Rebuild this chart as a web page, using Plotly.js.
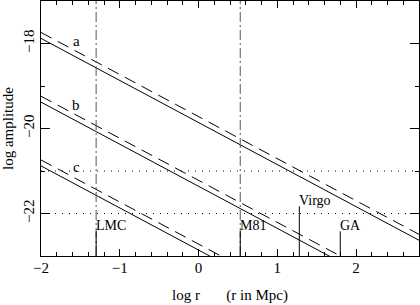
<!DOCTYPE html>
<html><head><meta charset="utf-8">
<script src="https://cdn.plot.ly/plotly-3.0.1.min.js"></script>
<style>body{margin:0;background:#fff}#c{width:420px;height:305px}</style>
</head><body><div id="c"></div>
<script>
// line endpoints (log r at both ends, log amplitude at both ends)
const xEnds = [-2, 2.8];
const aSolid = [-17.88, -22.63];
const aDashed = [-17.74, -22.49];
const bSolid = [-19.38, -24.13];
const bDashed = [-19.24, -23.99];
const cSolid = [-20.88, -25.63];
const cDashed = [-20.74, -25.49];
const curveLabels = ['a', 'b', 'c'];
const curveLabelX = [-1.55, -1.55, -1.55];
const curveLabelY = [-17.94, -19.44, -20.91];
// objects
const objNames = ['LMC', 'M81', 'Virgo', 'GA'];
const objLogR = [-1.30, 0.53, 1.28, 1.80];
const objTop = [-22.42, -22.42, -21.83, -22.42];
const dashDotObjects = [-1.30, 0.53];
const dottedLevels = [-21, -22];
const yRange = [-23, -17];
const xRange = [-2, 2.8];

const serif = 'Liberation Serif, Times New Roman, serif';
const traces = [];
const solid = {color: '#000', width: 1};
const dashed = {color: '#000', width: 1, dash: '12px,7px'};
[[aSolid, aDashed], [bSolid, bDashed], [cSolid, cDashed]].forEach(p => {
  traces.push({x: xEnds, y: p[0], mode: 'lines', line: solid, hoverinfo: 'skip'});
  traces.push({x: xEnds, y: p[1], mode: 'lines', line: dashed, hoverinfo: 'skip'});
});
dottedLevels.forEach(v => traces.push({x: xRange, y: [v, v], mode: 'lines', line: {color: '#000', width: 1, dash: '1px,6px'}, hoverinfo: 'skip'}));
dashDotObjects.forEach(v => traces.push({x: [v, v], y: yRange, mode: 'lines', line: {color: '#555', width: 1, dash: '10px,3px,2px,3px'}, hoverinfo: 'skip'}));
objLogR.forEach((v, i) => traces.push({x: [v, v], y: [yRange[0], objTop[i]], mode: 'lines', line: solid, hoverinfo: 'skip'}));

const annotations = [];
curveLabels.forEach((t, i) => annotations.push({x: curveLabelX[i], y: curveLabelY[i], text: t, showarrow: false, xanchor: 'center', yanchor: 'middle', font: {family: serif, size: 15, color: '#000'}}));
objNames.forEach((t, i) => annotations.push({x: objLogR[i], y: objTop[i], text: t, showarrow: false, xanchor: 'left', yanchor: 'bottom', xshift: -2, yshift: -4, font: {family: serif, size: 14, color: '#000'}}));

const layout = {
  width: 420, height: 305,
  margin: {l: 41, r: 1, t: 1, b: 49},
  showlegend: false,
  paper_bgcolor: '#fff', plot_bgcolor: '#fff',
  font: {family: serif, size: 15, color: '#000'},
  xaxis: {
    range: xRange, dtick: 1, tick0: 0, ticks: 'inside', ticklen: 7, tickcolor: '#000', tickwidth: 1,
    minor: {dtick: 0.2, ticks: 'inside', ticklen: 4, tickcolor: '#000'},
    showline: true, linecolor: '#000', linewidth: 1, mirror: 'allticks',
    showgrid: false, zeroline: false, ticklabelstandoff: -2,
    tickfont: {family: serif, size: 15},
    title: {text: 'log r\u00a0\u00a0\u00a0\u00a0\u00a0\u00a0\u00a0(r in Mpc)', font: {family: serif, size: 15}, standoff: 14}
  },
  yaxis: {
    range: yRange, dtick: 2, tick0: 0, ticks: 'inside', ticklen: 9, tickcolor: '#000', tickwidth: 1,
    minor: {dtick: 1, ticks: 'inside', ticklen: 4, tickcolor: '#000'},
    showline: true, linecolor: '#000', linewidth: 1, mirror: 'allticks',
    showgrid: false, zeroline: false, tickangle: -90,
    tickfont: {family: serif, size: 15},
    title: {text: 'log amplitude', font: {family: serif, size: 15}, standoff: 3}
  },
  annotations: annotations
};
Plotly.newPlot('c', traces, layout, {staticPlot: true});
</script></body></html>
